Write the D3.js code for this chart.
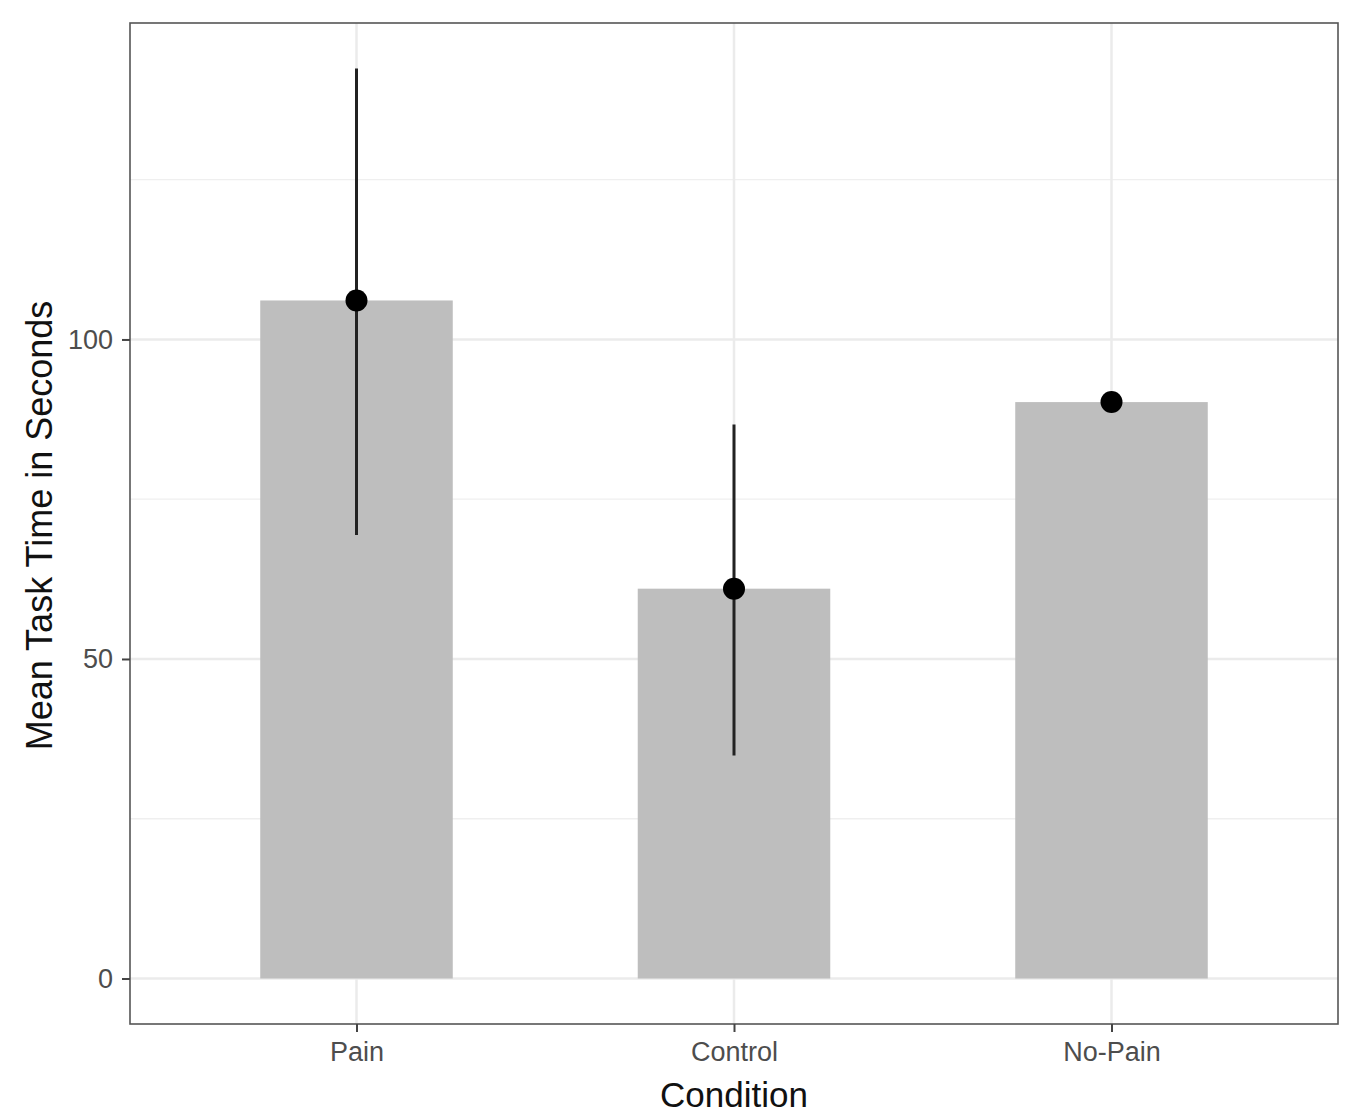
<!DOCTYPE html>
<html>
<head>
<meta charset="utf-8">
<script src="https://cdn.jsdelivr.net/npm/d3@7"></script>
<style>
  body { margin: 0; background: #fff; }
  text { font-family: "Liberation Sans", Arial, sans-serif; }
</style>
</head>
<body>
<div id="chart"></div>
<script>
// data
const conditions = ["Pain", "Control", "No-Pain"];
const meanTimes = [106.1, 61.0, 90.2];
const errLow = [69.4, 34.9, null];
const errHigh = [142.4, 86.7, null];
const majorTicks = [0, 50, 100];
const minorTicks = [25, 75, 125];

const W = 1350, H = 1118;
const margin = { top: 23, right: 12, bottom: 94, left: 130 };
const width = W - margin.left - margin.right;
const height = H - margin.top - margin.bottom;

const svg = d3.select("#chart").append("svg")
    .attr("width", W)
    .attr("height", H);

const g = svg.append("g")
    .attr("transform", `translate(${margin.left},${margin.top})`);

// ggplot-like expansion: 5% of data range on y, 0.6 units on discrete x
const yMax = d3.max(errHigh.concat(meanTimes).filter(v => v != null));
const pad = yMax * 0.05;
const y = d3.scaleLinear().domain([-pad, yMax + pad]).range([height, 0]);

const x = d3.scalePoint().domain(conditions).range([0, width]).padding(0.6);
const step = x.step();
const barW = step * 0.51;

// minor grid
g.selectAll(".minor").data(minorTicks).enter().append("line")
    .attr("x1", 0).attr("x2", width)
    .attr("y1", d => y(d)).attr("y2", d => y(d))
    .attr("stroke", "#efefef").attr("stroke-width", 1.3);

// major grid
g.selectAll(".major").data(majorTicks).enter().append("line")
    .attr("x1", 0).attr("x2", width)
    .attr("y1", d => y(d)).attr("y2", d => y(d))
    .attr("stroke", "#ebebeb").attr("stroke-width", 2.5);

g.selectAll(".vgrid").data(conditions).enter().append("line")
    .attr("x1", d => x(d)).attr("x2", d => x(d))
    .attr("y1", 0).attr("y2", height)
    .attr("stroke", "#ebebeb").attr("stroke-width", 2.5);

// bars
g.selectAll(".bar").data(conditions).enter().append("rect")
    .attr("x", d => x(d) - barW / 2)
    .attr("width", barW)
    .attr("y", (d, i) => y(meanTimes[i]))
    .attr("height", (d, i) => y(0) - y(meanTimes[i]))
    .attr("fill", "#bebebe");

// error bars
g.selectAll(".err").data(conditions.filter((d, i) => errLow[i] != null)).enter().append("line")
    .attr("x1", d => x(d)).attr("x2", d => x(d))
    .attr("y1", d => y(errLow[conditions.indexOf(d)]))
    .attr("y2", d => y(errHigh[conditions.indexOf(d)]))
    .attr("stroke", "#222").attr("stroke-width", 3);

// mean points
g.selectAll(".pt").data(conditions).enter().append("circle")
    .attr("cx", d => x(d))
    .attr("cy", (d, i) => y(meanTimes[i]))
    .attr("r", 11)
    .attr("fill", "#000");

// panel border
g.append("rect")
    .attr("width", width).attr("height", height)
    .attr("fill", "none").attr("stroke", "#555").attr("stroke-width", 1.6);

// axes
const yAxis = g.append("g")
    .call(d3.axisLeft(y).tickValues(majorTicks).tickSize(8).tickPadding(9));
const xAxis = g.append("g")
    .attr("transform", `translate(0,${height})`)
    .call(d3.axisBottom(x).tickSize(8).tickPadding(10));

[yAxis, xAxis].forEach(ax => {
    ax.select(".domain").remove();
    ax.selectAll(".tick line").attr("stroke", "#444").attr("stroke-width", 2);
    ax.selectAll(".tick text")
        .attr("fill", "#4d4d4d")
        .style("font-size", "27px");
});

// axis titles
svg.append("text")
    .attr("x", margin.left + width / 2)
    .attr("y", 1107)
    .attr("text-anchor", "middle")
    .style("font-size", "35px")
    .attr("fill", "#111")
    .text("Condition");

svg.append("text")
    .attr("transform", `translate(52,${margin.top + height / 2 + 2}) rotate(-90)`)
    .attr("text-anchor", "middle")
    .style("font-size", "36px")
    .attr("fill", "#111")
    .text("Mean Task Time in Seconds");
</script>
</body>
</html>
